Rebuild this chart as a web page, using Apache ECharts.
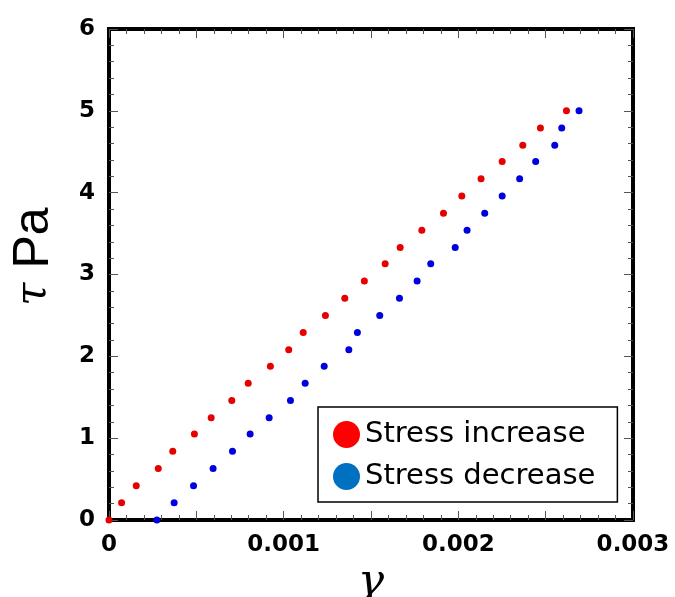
<!DOCTYPE html>
<html>
<head>
<meta charset="utf-8">
<script src="https://cdn.jsdelivr.net/npm/echarts@6/dist/echarts.min.js"></script>
<style>
  html, body { margin: 0; padding: 0; background: #fff; }
  #main { width: 675px; height: 597px; }
</style>
</head>
<body>
<div id="main"></div>
<script>
// shear stress (Pa), same steps for both branches
var tauValues = [0, 0.21, 0.42, 0.63, 0.84, 1.05, 1.25, 1.46, 1.67, 1.88, 2.08, 2.29, 2.50,
                 2.71, 2.92, 3.13, 3.33, 3.54, 3.75, 3.96, 4.17, 4.38, 4.58, 4.79, 5.0];
// strain while stress goes up
var gammaIncrease = [0, 0.000072, 0.000156, 0.000282, 0.000365, 0.000489, 0.000585, 0.000703,
                     0.000797, 0.000924, 0.001029, 0.001112, 0.001239, 0.00135, 0.001462,
                     0.001581, 0.001667, 0.001791, 0.001915, 0.00202, 0.00213, 0.002251,
                     0.002369, 0.00247, 0.002619];
// strain while stress goes down
var gammaDecrease = [0.000274, 0.000373, 0.000484, 0.000596, 0.000707, 0.000808, 0.000917,
                     0.001039, 0.001123, 0.001232, 0.001373, 0.001422, 0.00155, 0.001663,
                     0.001764, 0.001842, 0.001982, 0.00205, 0.002151, 0.002251, 0.002351,
                     0.002443, 0.002552, 0.002592, 0.002691];
var xTickLabels = ['0', '0.001', '0.002', '0.003'];
var yTickLabels = ['0', '1', '2', '3', '4', '5', '6'];
var seriesNames = ['Stress increase', 'Stress decrease'];

function pairs(xs, ys) {
    var out = [];
    for (var i = 0; i < xs.length; i++) {
        out.push([xs[i], ys[i]]);
    }
    return out;
}

var labelFont = '"DejaVu Sans", sans-serif';
var sansFont = '"Liberation Sans", Arial, sans-serif';

function xLabel(v) {
    var r = Math.round(v * 10000);
    if (r % 10 !== 0) return '';
    return xTickLabels[r / 10] || '';
}
function yLabel(v) {
    return yTickLabels[Math.round(v)] || '';
}

// one axis = one set of inward ticks; frame line drawn on the main ones
function tickAxis(pos, max, step, len, line) {
    return {
        type: 'value', position: pos, min: 0, max: max, interval: step,
        axisLine: { show: line, onZero: false, lineStyle: { color: '#000', width: 4, cap: 'square' } },
        axisTick: { show: true, inside: true, length: len, lineStyle: { color: '#555', width: 1 } },
        splitLine: { show: false },
        axisLabel: { show: false }
    };
}

var xMain = tickAxis('bottom', 0.003, 0.0005, 9, true);
xMain.name = 'γ';
xMain.nameLocation = 'middle';
xMain.nameGap = 30;
xMain.nameTextStyle = { fontFamily: '"DejaVu Serif", serif', fontStyle: 'italic', fontSize: 44, color: '#000' };
xMain.axisLabel = { show: true, formatter: xLabel, fontFamily: labelFont, fontWeight: 'bold', fontSize: 23, color: '#000', margin: 14 };

var yMain = tickAxis('left', 6, 1, 9, true);
yMain.name = '{t|τ} {p|Pa}';
yMain.nameLocation = 'middle';
yMain.nameGap = 50;
yMain.nameRotate = 90;
yMain.nameTextStyle = {
    fontFamily: sansFont, fontSize: 50, color: '#000',
    padding: [0, 0, 0, 36],
    rich: {
        t: { fontFamily: '"DejaVu Serif", serif', fontStyle: 'italic', fontSize: 42, color: '#000' },
        p: { fontFamily: sansFont, fontSize: 50, color: '#000' }
    }
};
yMain.axisLabel = { show: true, formatter: yLabel, fontFamily: labelFont, fontWeight: 'bold', fontSize: 23, color: '#000', margin: 14 };

var chart = echarts.init(document.getElementById('main'));
chart.setOption({
    animation: false,
    backgroundColor: '#fff',
    grid: {
        left: 109, right: 42, top: 29, bottom: 77,
        outerBoundsMode: 'none'
    },
    legend: {
        orient: 'vertical',
        left: 318, top: 407,
        padding: [13, 22, 11, 15],
        itemGap: 13,
        itemWidth: 27, itemHeight: 27,
        backgroundColor: '#fff',
        borderColor: '#000', borderWidth: 1.5,
        textStyle: { fontFamily: labelFont, fontSize: 29, color: '#000', lineHeight: 27 },
        data: [
            { name: seriesNames[0], icon: 'circle', itemStyle: { color: '#ff0000', opacity: 1 } },
            { name: seriesNames[1], icon: 'circle', itemStyle: { color: '#0070c0', opacity: 1 } }
        ]
    },
    xAxis: [
        xMain,
        tickAxis('top', 0.003, 0.0005, 9, true),
        tickAxis('bottom', 0.003, 0.0001, 5, false),
        tickAxis('top', 0.003, 0.0001, 5, false)
    ],
    yAxis: [
        yMain,
        tickAxis('right', 6, 1, 9, true),
        tickAxis('left', 6, 0.2, 5, false),
        tickAxis('right', 6, 0.2, 5, false)
    ],
    series: [{
        name: seriesNames[0], type: 'scatter', symbolSize: 7,
        itemStyle: { color: '#e60000', opacity: 1 },
        data: pairs(gammaIncrease, tauValues)
    }, {
        name: seriesNames[1], type: 'scatter', symbolSize: 7,
        itemStyle: { color: '#0000e0', opacity: 1 },
        data: pairs(gammaDecrease, tauValues)
    }]
});
</script>
</body>
</html>
